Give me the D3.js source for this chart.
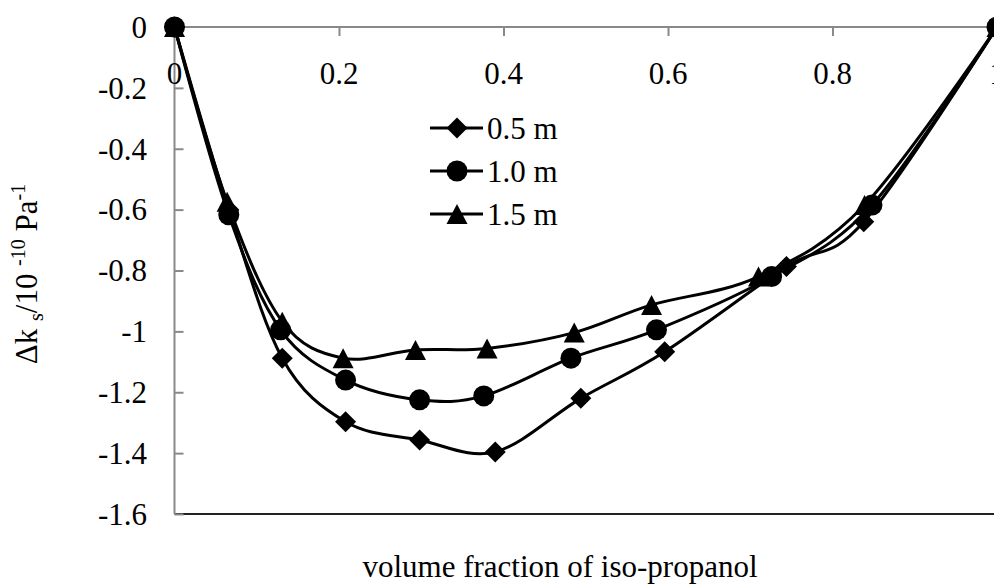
<!DOCTYPE html>
<html>
<head>
<meta charset="utf-8">
<script src="https://cdn.jsdelivr.net/npm/d3@7/dist/d3.min.js"></script>
<style>
  html, body { margin: 0; padding: 0; background: #fff; }
  svg { display: block; }
  text { font-family: "Liberation Serif", "Times New Roman", serif; fill: #000; }
</style>
</head>
<body>
<svg id="chart" width="994" height="585"></svg>
<script>
// ---- data ----
const seriesNames = ["0.5 m", "1.0 m", "1.5 m"];
const x05 = [0, 0.066, 0.131, 0.208, 0.298, 0.390, 0.494, 0.596, 0.744, 0.838, 1];
const y05 = [0, -0.600, -1.088, -1.297, -1.357, -1.396, -1.220, -1.067, -0.787, -0.640, 0];
const x10 = [0, 0.066, 0.129, 0.208, 0.298, 0.376, 0.482, 0.586, 0.726, 0.848, 1];
const y10 = [0, -0.617, -0.995, -1.160, -1.225, -1.212, -1.088, -0.995, -0.820, -0.585, 0];
const x15 = [0, 0.064, 0.131, 0.205, 0.293, 0.380, 0.486, 0.580, 0.710, 0.839, 1];
const y15 = [0, -0.574, -0.968, -1.088, -1.061, -1.056, -1.004, -0.913, -0.820, -0.585, 0];
const xTicks = [0, 0.2, 0.4, 0.6, 0.8, 1];
const xTickLabels = ["0", "0.2", "0.4", "0.6", "0.8", "1"];
const yTicks = [0, -0.2, -0.4, -0.6, -0.8, -1, -1.2, -1.4, -1.6];
const yTickLabels = ["0", "-0.2", "-0.4", "-0.6", "-0.8", "-1", "-1.2", "-1.4", "-1.6"];
const xTitle = "volume fraction of iso-propanol";

(function () {
// ---- layout ----
const svg = d3.select("#chart");
const pL = 174.5, pR = 997, pT = 27, pB = 514;
const x = d3.scaleLinear().domain([0, 1]).range([pL, pR]);
const y = d3.scaleLinear().domain([0, -1.6]).range([pT, pB]);
const FS = 31;
const SS = 20;
const axisGray = "#898989";

// bottom border of plot area
svg.append("line").attr("x1", pL).attr("x2", pR).attr("y1", y(-1.6)).attr("y2", y(-1.6))
  .attr("stroke", "#222").attr("stroke-width", 2);

// y axis (left, ticks inward)
const yAxis = svg.append("g").attr("transform", `translate(${pL},0)`)
  .call(d3.axisRight(y).tickValues(yTicks).tickSize(9).tickFormat(""));
yAxis.select(".domain").attr("stroke", axisGray).attr("stroke-width", 2).attr("d", `M0,${pT}V${pB}`);
yAxis.selectAll(".tick line").attr("stroke", axisGray).attr("stroke-width", 2);
svg.append("g").selectAll("text").data(yTicks).join("text")
  .attr("x", 147).attr("y", d => y(d)).attr("dy", "0.35em")
  .attr("text-anchor", "end").attr("font-size", FS)
  .text((d, i) => yTickLabels[i]);

// x axis at y=0 (top, ticks downward)
const xAxis = svg.append("g").attr("transform", `translate(0,${y(0)})`)
  .call(d3.axisBottom(x).tickValues(xTicks).tickSize(9).tickFormat(""));
xAxis.select(".domain").attr("stroke", axisGray).attr("stroke-width", 2).attr("d", `M${pL},0H${pR}`);
xAxis.selectAll(".tick line").attr("stroke", axisGray).attr("stroke-width", 2);
svg.append("g").selectAll("text").data(xTicks).join("text")
  .attr("x", d => x(d)).attr("y", 84)
  .attr("text-anchor", "middle").attr("font-size", FS)
  .text((d, i) => xTickLabels[i]);

// axis titles
svg.append("text").attr("x", 560).attr("y", 577).attr("text-anchor", "middle")
  .attr("font-size", FS).text(xTitle);

const yt = svg.append("text").attr("transform", "translate(37,274) rotate(-90)")
  .attr("text-anchor", "middle").attr("font-size", FS);
yt.append("tspan").text("\u0394k ");
yt.append("tspan").attr("font-size", SS).attr("dy", 6).text("s");
yt.append("tspan").attr("dy", -6).text("/10 ");
yt.append("tspan").attr("font-size", SS).attr("dy", -12).text("-10");
yt.append("tspan").attr("dy", 12).text(" Pa");
yt.append("tspan").attr("font-size", SS).attr("dy", -12).text("-1");

// markers
const cp = d3.path(); cp.arc(0, 0, 10.5, 0, 2 * Math.PI);
const markerPath = {
  diamond: "M0,-10.5L10.5,0L0,10.5L-10.5,0Z",
  circle: cp.toString(),
  triangle: "M0,-10L10.5,10L-10.5,10Z"
};

const series = [
  { name: seriesNames[0], xs: x05, ys: y05, marker: "diamond" },
  { name: seriesNames[1], xs: x10, ys: y10, marker: "circle" },
  { name: seriesNames[2], xs: x15, ys: y15, marker: "triangle" }
];

const line = d3.line().x(d => x(d[0])).y(d => y(d[1])).curve(d3.curveCardinal.tension(0));

series.forEach(s => {
  const pts = s.xs.map((v, i) => [v, s.ys[i]]);
  const g = svg.append("g");
  g.append("path").attr("d", line(pts)).attr("fill", "none").attr("stroke", "#000").attr("stroke-width", 3);
  g.selectAll("path.m").data(pts).join("path").attr("class", "m")
    .attr("d", markerPath[s.marker])
    .attr("transform", d => `translate(${x(d[0])},${y(d[1])})`)
    .attr("fill", "#000");
});

// legend
const legY = [128, 171, 214];
const lg = svg.append("g");
series.forEach((s, i) => {
  lg.append("line").attr("x1", 430).attr("x2", 483).attr("y1", legY[i]).attr("y2", legY[i])
    .attr("stroke", "#000").attr("stroke-width", 3);
  lg.append("path").attr("d", markerPath[s.marker])
    .attr("transform", `translate(457,${legY[i]})`).attr("fill", "#000");
  lg.append("text").attr("x", 487).attr("y", legY[i]).attr("dy", "0.35em")
    .attr("font-size", FS).text(s.name);
});
})();
</script>
</body>
</html>
